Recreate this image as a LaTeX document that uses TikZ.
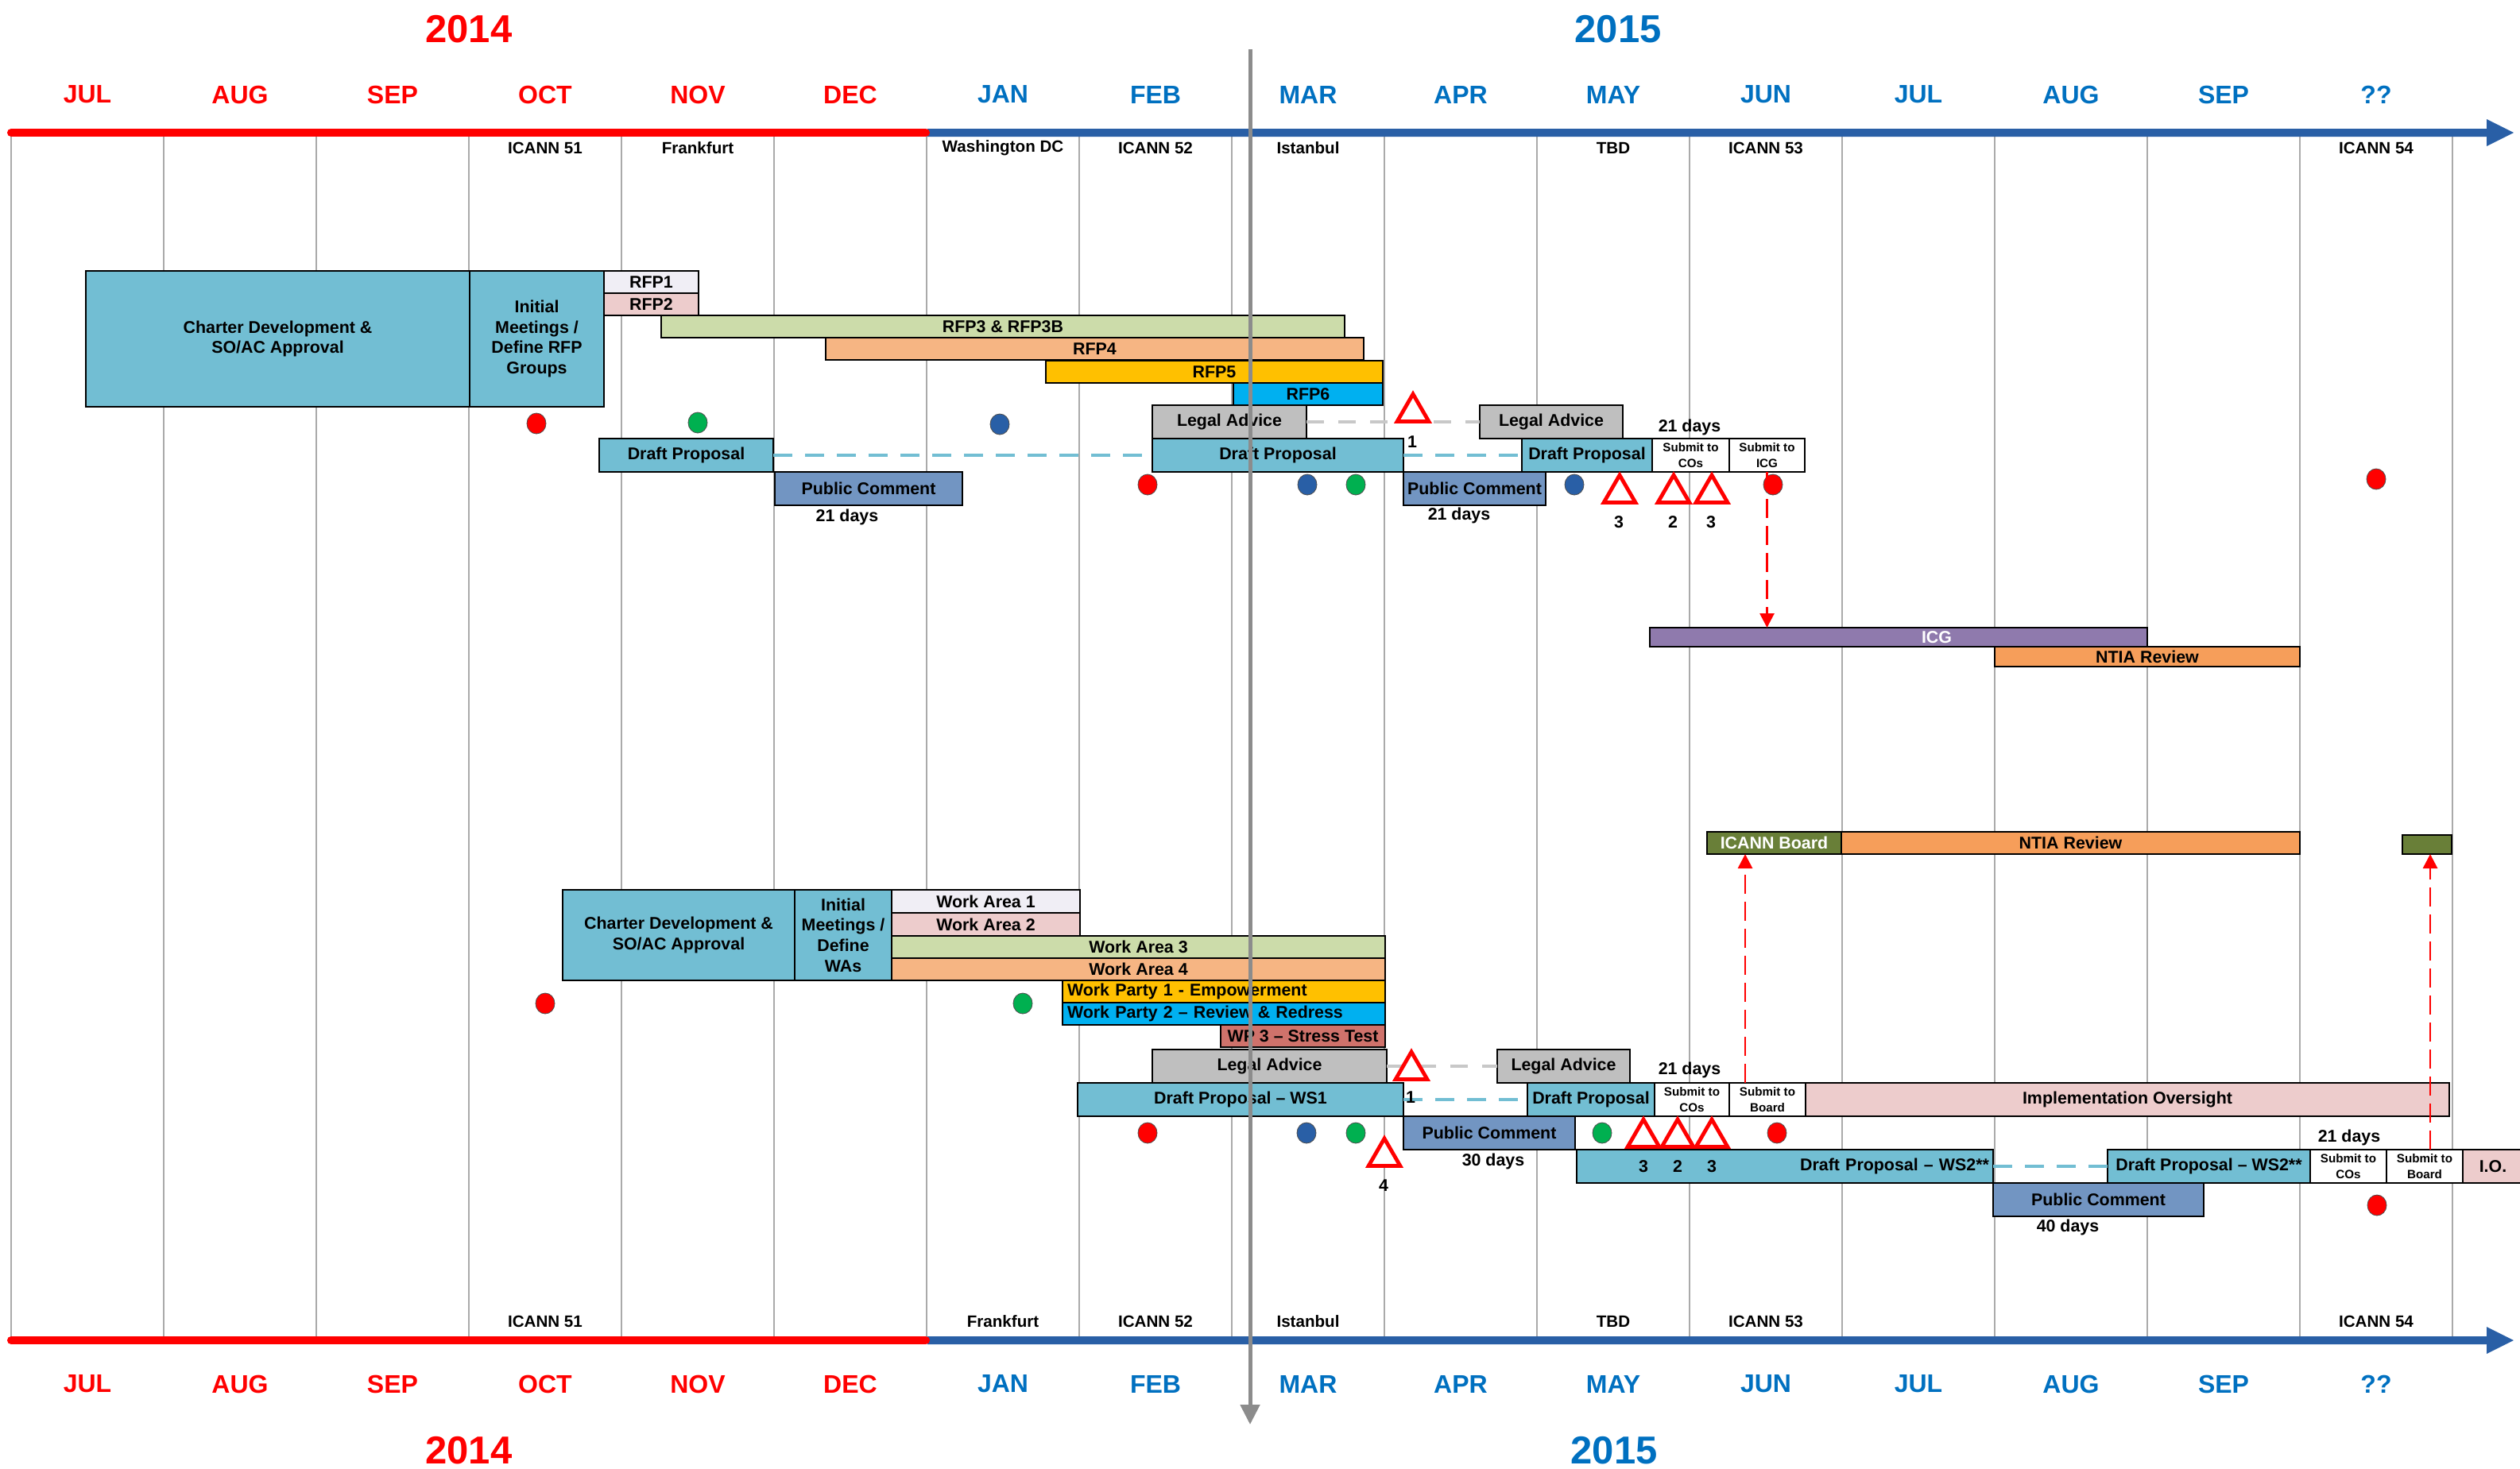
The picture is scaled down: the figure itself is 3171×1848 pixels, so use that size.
\documentclass[tikz,border=0pt]{standalone}
\usepackage{fontspec}
\setmainfont{Liberation Sans}
\usetikzlibrary{shapes.geometric,arrows.meta}
\definecolor{cLB}{RGB}{114,190,211}
\definecolor{cPC}{RGB}{114,149,194}
\definecolor{cLav}{RGB}{240,238,245}
\definecolor{cPink}{RGB}{237,204,204}
\definecolor{cGrn}{RGB}{204,220,170}
\definecolor{cOra}{RGB}{246,181,131}
\definecolor{cGold}{RGB}{255,192,0}
\definecolor{cCyan}{RGB}{0,176,240}
\definecolor{cGray}{RGB}{191,191,191}
\definecolor{cPur}{RGB}{143,122,173}
\definecolor{cNtia}{RGB}{246,158,90}
\definecolor{cOlive}{RGB}{105,127,56}
\definecolor{cSal}{RGB}{207,114,107}
\definecolor{cBlueT}{RGB}{0,112,192}
\definecolor{cAxis}{RGB}{41,95,166}
\definecolor{cDotG}{RGB}{0,176,80}
\definecolor{cGrid}{RGB}{170,170,170}
\definecolor{cCenter}{RGB}{140,140,140}
\definecolor{cDashG}{RGB}{200,200,200}
\newcommand{\gbox}[7]{%
  \pgfmathsetmacro{\gbw}{(#4-#2)*0.5}%
  \pgfmathsetmacro{\gbh}{(#5-#3)*0.5}%
  \node[box,#6,minimum width=\gbw pt,minimum height=\gbh pt,anchor=north west] (#1) at (#2,#3) {#7};}
\tikzset{
  basefont/.style={font=\bfseries\fontsize{10.7}{12.8}\selectfont},
  lbl/.style={basefont, inner sep=0pt},
  ven/.style={font=\bfseries\fontsize{10.3}{12.6}\selectfont, inner sep=0pt},
  box/.style={draw=black, line width=0.6pt, inner sep=0pt, outer sep=0pt, align=center, basefont},
  sm/.style={font=\bfseries\fontsize{7.6}{9.6}\selectfont},
  wpl/.style={align=left, text width=197pt},
  wsr/.style={align=right, text width=257pt},
  mon14/.style={font=\bfseries\fontsize{16}{18}\selectfont, text=red, inner sep=0pt},
  mon15/.style={font=\bfseries\fontsize{16}{18}\selectfont, text=cBlueT, inner sep=0pt},
  yr/.style={font=\bfseries\fontsize{24.5}{28}\selectfont, inner sep=0pt},
  grid/.style={draw=cGrid, line width=1.2pt},
  tri/.style={regular polygon, regular polygon sides=3, draw=red, fill=white, line width=2.4pt, minimum size=23pt, inner sep=0pt},
  dot/.style={ellipse, draw=black!70, line width=0.4pt, minimum width=12pt, minimum height=13pt, inner sep=0pt},
  gdash/.style={draw=cDashG, line width=2.2pt, dash pattern=on 11pt off 9pt},
  bdash/.style={draw=cLB, line width=2pt, dash pattern=on 12pt off 8pt},
  rarrow/.style={draw=red, line width=1.4pt, dash pattern=on 12pt off 5pt, -{Triangle[length=9pt,width=9pt]}},
  centerline/.style={draw=cCenter, line width=2.5pt, -{Triangle[length=12.5pt,width=12pt]}}
}
\begin{document}
\begin{tikzpicture}[x=0.5pt,y=-0.5pt]
\useasboundingbox (0,0) rectangle (3171,1848);
% grid lines
\foreach \k in {0,...,16} \draw[grid] ({14+192*\k},167) -- ({14+192*\k},1687);
% axis bars
\fill[cAxis] (1167,162) -- (3129,162) -- (3129,150) -- (3163,167) -- (3129,184) -- (3129,172) -- (1167,172) -- cycle;
\draw[red, line width=5pt, line cap=round] (14,167) -- (1165,167);
\fill[cAxis] (1167,1682) -- (3129,1682) -- (3129,1670) -- (3163,1687) -- (3129,1704) -- (3129,1692) -- (1167,1692) -- cycle;
\draw[red, line width=5pt, line cap=round] (14,1687) -- (1165,1687);
% years
\node[yr, text=red] (y14t) at (590,37) {2014};
\node[yr, text=cBlueT] (y15t) at (2036,37) {2015};
\node[yr, text=red] (y14b) at (590,1826) {2014};
\node[yr, text=cBlueT] (y15b) at (2031,1826) {2015};
% months
\foreach \m [count=\i from 0] in {JUL,AUG,SEP,OCT,NOV,DEC} {
  \node[mon14] (mt\i) at ({110+192*\i},119) {\m};
  \node[mon14] (mb\i) at ({110+192*\i},1742) {\m};}
\foreach \m [count=\i from 6] in {JAN,FEB,MAR,APR,MAY,JUN,JUL,AUG,SEP,??} {
  \node[mon15] (mt\i) at ({110+192*\i},119) {\m};
  \node[mon15] (mb\i) at ({110+192*\i},1742) {\m};}
% venues top
\node[ven] (vt1) at (686,186) {ICANN 51};
\node[ven] (vt2) at (878,186) {Frankfurt};
\node[ven] (vt3) at (1262,186) {Washington DC};
\node[ven] (vt4) at (1454,186) {ICANN 52};
\node[ven] (vt5) at (1646,186) {Istanbul};
\node[ven] (vt6) at (2030,186) {TBD};
\node[ven] (vt7) at (2222,186) {ICANN 53};
\node[ven] (vt8) at (2990,186) {ICANN 54};
% venues bottom
\node[ven] (vb1) at (686,1663) {ICANN 51};
\node[ven] (vb2) at (1262,1663) {Frankfurt};
\node[ven] (vb3) at (1454,1663) {ICANN 52};
\node[ven] (vb4) at (1646,1663) {Istanbul};
\node[ven] (vb5) at (2030,1663) {TBD};
\node[ven] (vb6) at (2222,1663) {ICANN 53};
\node[ven] (vb7) at (2990,1663) {ICANN 54};
% ===== upper chart =====
\gbox{charterA}{108}{341}{591}{512}{fill=cLB}{Charter Development \&\\SO/AC Approval}
\gbox{initA}{591}{341}{760}{512}{fill=cLB}{Initial\\Meetings /\\Define RFP\\Groups}
\gbox{rfp1}{760}{341}{879}{369}{fill=cLav}{RFP1}
\gbox{rfp2}{760}{369}{879}{397}{fill=cPink}{RFP2}
\gbox{rfp3}{832}{397}{1692}{425}{fill=cGrn}{RFP3 \& RFP3B}
\gbox{rfp4}{1039}{425}{1716}{453}{fill=cOra}{RFP4}
\gbox{rfp5}{1316}{454}{1740}{482}{fill=cGold}{RFP5}
\gbox{rfp6}{1552}{482}{1740}{510}{fill=cCyan}{RFP6}
\gbox{legalA1}{1450}{510}{1644}{552}{fill=cGray}{Legal Advice}
\gbox{legalA2}{1862}{510}{2042}{552}{fill=cGray}{Legal Advice}
\gbox{draftA0}{754}{552}{973}{594}{fill=cLB}{Draft Proposal}
\gbox{draftA1}{1450}{552}{1766}{594}{fill=cLB}{Draft Proposal}
\gbox{draftA2}{1915}{552}{2079}{594}{fill=cLB}{Draft Proposal}
\gbox{subA1}{2079}{552}{2176}{594}{fill=white,sm}{Submit to\\COs}
\gbox{subA2}{2176}{552}{2271}{594}{fill=white,sm}{Submit to\\ICG}
\gbox{pubA1}{975}{594}{1211}{636}{fill=cPC}{Public Comment}
\gbox{pubA2}{1766}{594}{1945}{636}{fill=cPC}{Public Comment}
\gbox{icg}{2076}{790}{2702}{814}{fill=cPur,text=white}{\hspace*{48pt}ICG}
\gbox{ntiaA}{2510}{814}{2894}{839}{fill=cNtia}{NTIA Review}
\draw[gdash] (legalA1.east) -- (legalA2.west);
\draw[bdash] (draftA0.east) -- (draftA1.west);
\draw[bdash] (draftA1.east) -- (draftA2.west);
\node[tri] (tA1) at (1778,519) {};
\node[tri] (tA2) at (2038,621) {};
\node[tri] (tA3) at (2106,621) {};
\node[tri] (tA4) at (2154,621) {};
\node[lbl] (nA1) at (1777,556) {1};
\node[lbl] (nA2) at (2037,657) {3};
\node[lbl] (nA3) at (2105,657) {2};
\node[lbl] (nA4) at (2153,657) {3};
\node[lbl] (dA1) at (1066,651) {21 days};
\node[lbl] (dA2) at (1836,649) {21 days};
\node[lbl] (dA3) at (2126,538) {21 days};
\node[dot, fill=red] (pA1) at (675,533) {};
\node[dot, fill=cDotG] (pA2) at (878,532) {};
\node[dot, fill=cAxis] (pA3) at (1258,534) {};
\node[dot, fill=red] (pA4) at (1444,610) {};
\node[dot, fill=cAxis] (pA5) at (1645,610) {};
\node[dot, fill=cDotG] (pA6) at (1706,610) {};
\node[dot, fill=cAxis] (pA7) at (1981,610) {};
\node[dot, fill=red] (pA8) at (2231,610) {};
\node[dot, fill=red] (pA9) at (2990,603) {};
\draw[rarrow] (subA2.south) -- (subA2.south |- icg.north);
% ===== lower chart =====
\gbox{ibBoard}{2148}{1047}{2317}{1075}{fill=cOlive,text=white}{ICANN Board}
\gbox{ntiaB}{2317}{1047}{2894}{1075}{fill=cNtia}{NTIA Review}
\gbox{oliveSmall}{3023}{1051}{3085}{1075}{fill=cOlive}{}
\gbox{charterB}{708}{1120}{1000}{1234}{fill=cLB}{Charter Development \&\\SO/AC Approval}
\gbox{initB}{1000}{1120}{1122}{1234}{fill=cLB}{Initial\\Meetings /\\Define\\WAs}
\gbox{wa1}{1122}{1120}{1359}{1149}{fill=cLav}{Work Area 1}
\gbox{wa2}{1122}{1149}{1359}{1178}{fill=cPink}{Work Area 2}
\gbox{wa3}{1122}{1178}{1743}{1206}{fill=cGrn}{Work Area 3}
\gbox{wa4}{1122}{1206}{1743}{1234}{fill=cOra}{Work Area 4}
\gbox{wp1}{1337}{1234}{1743}{1262}{fill=cGold,wpl}{Work Party 1 - Empowerment}
\gbox{wp2}{1337}{1262}{1743}{1290}{fill=cCyan,wpl}{Work Party 2 – Review \& Redress}
\gbox{wp3}{1536}{1290}{1743}{1318}{fill=cSal}{WP 3 – Stress Test}
\gbox{legalB1}{1450}{1321}{1745}{1363}{fill=cGray}{Legal Advice}
\gbox{legalB2}{1884}{1321}{2051}{1363}{fill=cGray}{Legal Advice}
\gbox{draftB1}{1356}{1363}{1766}{1405}{fill=cLB}{Draft Proposal – WS1}
\gbox{draftB2}{1922}{1363}{2082}{1405}{fill=cLB}{Draft Proposal}
\gbox{subB1}{2082}{1363}{2176}{1405}{fill=white,sm}{Submit to\\COs}
\gbox{subB2}{2176}{1363}{2272}{1405}{fill=white,sm}{Submit to\\Board}
\gbox{impl}{2272}{1363}{3082}{1405}{fill=cPink}{Implementation Oversight}
\gbox{pubB1}{1766}{1405}{1982}{1447}{fill=cPC}{Public Comment}
\gbox{ws2a}{1984}{1447}{2508}{1489}{fill=cLB,wsr}{Draft Proposal – WS2**}
\gbox{ws2b}{2652}{1447}{2907}{1489}{fill=cLB}{Draft Proposal – WS2**}
\gbox{subC1}{2907}{1447}{3003}{1489}{fill=white,sm}{Submit to\\COs}
\gbox{subC2}{3003}{1447}{3099}{1489}{fill=white,sm}{Submit to\\Board}
\gbox{io}{3099}{1447}{3175}{1489}{fill=cPink}{I.O.}
\gbox{pubB2}{2508}{1489}{2773}{1531}{fill=cPC}{Public Comment}
\draw[gdash] (legalB1.east) -- (legalB2.west);
\draw[bdash] (draftB1.east) -- (draftB2.west);
\draw[bdash] (ws2a.east) -- (ws2b.west);
\node[tri] (tB1) at (1776,1347) {};
\node[tri] (tB4) at (1742,1456) {};
\node[tri] (tB2) at (2068,1432) {};
\node[tri] (tB3) at (2111,1432) {};
\node[tri] (tB5) at (2154,1432) {};
\node[lbl] (nB1) at (1775,1381) {1};
\node[lbl] (nB4) at (1741,1492) {4};
\node[lbl] (nB2) at (2068,1468) {3};
\node[lbl] (nB3) at (2111,1468) {2};
\node[lbl] (nB5) at (2154,1468) {3};
\node[lbl] (dB1) at (2126,1347) {21 days};
\node[lbl] (dB2) at (1879,1462) {30 days};
\node[lbl] (dB3) at (2956,1432) {21 days};
\node[lbl] (dB4) at (2602,1545) {40 days};
\node[dot, fill=red] (pB1) at (686,1263) {};
\node[dot, fill=cDotG] (pB2) at (1287,1263) {};
\node[dot, fill=red] (pB3) at (1444,1426) {};
\node[dot, fill=cAxis] (pB4) at (1644,1426) {};
\node[dot, fill=cDotG] (pB5) at (1706,1426) {};
\node[dot, fill=cDotG] (pB6) at (2016,1426) {};
\node[dot, fill=red] (pB7) at (2236,1426) {};
\node[dot, fill=red] (pB8) at (2991,1517) {};
\draw[rarrow] ([xshift=-14pt]subB2.north) -- ([xshift=-14pt]subB2.north |- ibBoard.south);
\draw[rarrow] ([xshift=3.5pt]subC2.north) -- ([xshift=3.5pt]subC2.north |- oliveSmall.south);
% center line
\coordinate (cl1) at (1573,62);
\coordinate (cl2) at (1573,1793);
\draw[centerline] (cl1) -- (cl2);
\end{tikzpicture}
\end{document}
